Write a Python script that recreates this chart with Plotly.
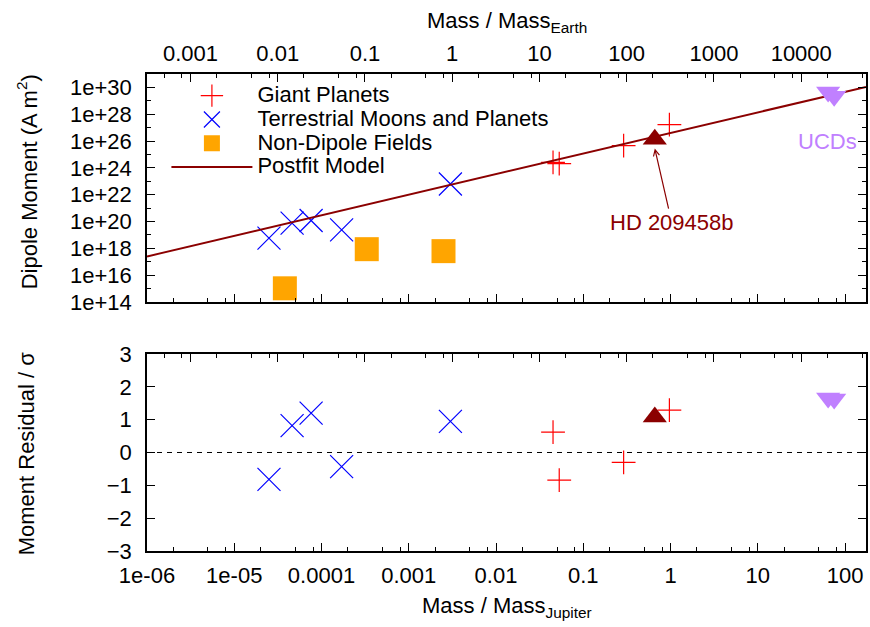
import math
import plotly.graph_objects as go

# ---------------- data ----------------
# masses in Jupiter masses, dipole moments in A m^2, residuals in sigma
giant_mass = [0.045, 0.053, 0.29, 0.97]
giant_moment = [2.6e24, 2.1e24, 4.6e25, 1.7e27]
giant_resid = [0.62, -0.84, -0.30, 1.29]

terr_mass = [2.5e-5, 4.6e-5, 7.6e-5, 1.7e-4, 3.0e-3]
terr_moment = [5.8e18, 7.6e19, 1.2e20, 2.4e19, 6.3e22]
terr_resid = [-0.82, 0.82, 1.20, -0.43, 0.95]

nondip_mass = [3.8e-5, 3.3e-4, 2.5e-3]
nondip_moment = [1.05e15, 8.7e17, 6.2e17]

hd_mass = [0.66]
hd_moment = [1.35e26]
hd_resid = [1.08]

ucd_mass = [64, 75]
ucd_moment = [4.5e29, 2.2e29]
ucd_resid = [1.66, 1.63]

model_mass = [1e-6, 174]
model_moment = [2.5e17, 1.1e30]

EARTH_PER_JUPITER = 317.8

jup_ticks = [1e-6, 1e-5, 1e-4, 1e-3, 1e-2, 1e-1, 1, 10, 100]
jup_labels = ["1e-06", "1e-05", "0.0001", "0.001", "0.01", "0.1", "1", "10", "100"]
earth_ticks = [1e-3, 1e-2, 1e-1, 1, 10, 100, 1000, 10000]
earth_labels = ["0.001", "0.01", "0.1", "1", "10", "100", "1000", "10000"]
moment_ticks = [1e14, 1e16, 1e18, 1e20, 1e22, 1e24, 1e26, 1e28, 1e30]
moment_labels = ["1e+14", "1e+16", "1e+18", "1e+20", "1e+22", "1e+24", "1e+26", "1e+28", "1e+30"]
resid_ticks = [-3, -2, -1, 0, 1, 2, 3]

# ---------------- styling ----------------
FONT = "Liberation Sans"
FS = 22
RED = "#ff0000"
BLUE = "#0000ff"
ORANGE = "#ffa500"
DARKRED = "#8b0000"
LAVENDER = "#c080ff"

minor_log = [m * 10.0 ** d for d in range(-8, 6) for m in (2, 5, 8)]
minor_moment = [10.0 ** d for d in range(13, 32, 2)]

xrange_j = [-6, 2.24]
shift = math.log10(EARTH_PER_JUPITER)
xrange_e = [xrange_j[0] + shift, xrange_j[1] + shift]

fig = go.Figure()

def leg(name):
    return '<span style="font-size:22px">' + name + '</span>'

# top panel traces
fig.add_trace(go.Scatter(x=giant_mass, y=giant_moment, mode="markers", xaxis="x2", yaxis="y2",
                         name=leg("Giant Planets"),
                         marker=dict(symbol="cross-thin", size=17, color=RED, line=dict(color=RED, width=1.2))))
fig.add_trace(go.Scatter(x=terr_mass, y=terr_moment, mode="markers", xaxis="x2", yaxis="y2",
                         name=leg("Terrestrial Moons and Planets"),
                         marker=dict(symbol="x-thin", size=23, color=BLUE, line=dict(color=BLUE, width=1.2))))
fig.add_trace(go.Scatter(x=nondip_mass, y=nondip_moment, mode="markers", xaxis="x2", yaxis="y2",
                         name=leg("Non-Dipole Fields"),
                         marker=dict(symbol="square", size=24, color=ORANGE)))
fig.add_trace(go.Scatter(x=model_mass, y=model_moment, mode="lines", xaxis="x2", yaxis="y2",
                         name=leg("Postfit Model"), line=dict(color=DARKRED, width=2)))
fig.add_trace(go.Scatter(x=hd_mass, y=hd_moment, mode="markers", xaxis="x2", yaxis="y2", showlegend=False,
                         marker=dict(symbol="triangle-up", size=21, color=DARKRED)))
fig.add_trace(go.Scatter(x=ucd_mass, y=ucd_moment, mode="markers", xaxis="x2", yaxis="y2", showlegend=False,
                         marker=dict(symbol="triangle-down", size=21, color=LAVENDER)))

# bottom panel traces
fig.add_trace(go.Scatter(x=giant_mass, y=giant_resid, mode="markers", xaxis="x", yaxis="y", showlegend=False,
                         marker=dict(symbol="cross-thin", size=17, color=RED, line=dict(color=RED, width=1.2))))
fig.add_trace(go.Scatter(x=terr_mass, y=terr_resid, mode="markers", xaxis="x", yaxis="y", showlegend=False,
                         marker=dict(symbol="x-thin", size=23, color=BLUE, line=dict(color=BLUE, width=1.2))))
fig.add_trace(go.Scatter(x=hd_mass, y=hd_resid, mode="markers", xaxis="x", yaxis="y", showlegend=False,
                         marker=dict(symbol="triangle-up", size=21, color=DARKRED)))
fig.add_trace(go.Scatter(x=ucd_mass, y=ucd_resid, mode="markers", xaxis="x", yaxis="y", showlegend=False,
                         marker=dict(symbol="triangle-down", size=21, color=LAVENDER)))

# empty traces so the Earth-mass axes get drawn
fig.add_trace(go.Scatter(x=[], y=[], xaxis="x3", yaxis="y2", showlegend=False, hoverinfo="skip"))
fig.add_trace(go.Scatter(x=[], y=[], xaxis="x4", yaxis="y", showlegend=False, hoverinfo="skip"))

tickfont = dict(family=FONT, size=FS, color="black")
base_axis = dict(showline=True, linecolor="black", linewidth=1.5, ticks="inside", ticklen=8,
                 tickwidth=1.2, tickcolor="black", showgrid=False, zeroline=False, tickfont=tickfont)
minor_x = dict(tickvals=minor_log, ticks="inside", ticklen=4, tickwidth=1.2, tickcolor="black", showgrid=False)

fig.update_layout(
    width=870, height=627,
    margin=dict(l=147, r=2, t=74, b=76),
    plot_bgcolor="white", paper_bgcolor="white",
    font=dict(family=FONT, size=FS, color="black"),
    xaxis=dict(base_axis, type="log", range=xrange_j, anchor="y", tickmode="array",
               tickvals=jup_ticks, ticktext=jup_labels, minor=minor_x, ticklabelstandoff=4),
    xaxis2=dict(base_axis, type="log", range=xrange_j, anchor="y2", tickmode="array",
                tickvals=jup_ticks, showticklabels=False, minor=minor_x),
    xaxis3=dict(base_axis, type="log", range=xrange_e, anchor="y2", overlaying="x2", side="top",
                tickmode="array", tickvals=earth_ticks, ticktext=earth_labels, minor=minor_x,
                ticklabelstandoff=2),
    xaxis4=dict(base_axis, type="log", range=xrange_e, anchor="y", overlaying="x", side="top",
                tickmode="array", tickvals=earth_ticks, showticklabels=False, minor=minor_x),
    yaxis=dict(base_axis, domain=[0, 0.413], anchor="x", range=[-3, 3], tickmode="array",
               tickvals=resid_ticks, mirror="ticks", ticklabelstandoff=9),
    yaxis2=dict(base_axis, domain=[0.522, 1], anchor="x2", type="log", range=[14, 31],
                tickmode="array", tickvals=moment_ticks, ticktext=moment_labels, mirror="ticks",
                minor=dict(tickvals=minor_moment, ticks="inside", ticklen=4, tickwidth=1.2,
                           tickcolor="black", showgrid=False),
                ticklabelstandoff=9),
    legend=dict(x=0.027, xanchor="left", y=0.99, yanchor="top", bgcolor="rgba(0,0,0,0)",
                font=dict(family=FONT, size=16, color="black"), itemwidth=81,
                tracegroupgap=0),
    showlegend=True,
)

# zero reference line in residual panel
fig.add_shape(type="line", xref="x domain", yref="y", x0=0, x1=1, y0=0, y1=0,
              line=dict(color="black", width=1, dash="5px,5px"))

# annotations
fig.add_annotation(xref="x2", yref="y2", x=math.log10(hd_mass[0]), y=25.44, ax=17, ay=74,
                   text="HD 209458b", showarrow=True, arrowhead=5, arrowsize=1, arrowwidth=1.2,
                   arrowcolor=DARKRED, font=dict(family=FONT, size=FS, color=DARKRED), standoff=0)
fig.add_annotation(xref="x2", yref="y2", x=1.794, y=25.96, text="UCDs", showarrow=False,
                   font=dict(family=FONT, size=FS, color=LAVENDER))

# axis titles
fig.add_annotation(xref="paper", yref="paper", x=-0.1664, y=0.7736, text="Dipole Moment (A m<sup>2</sup>)",
                   textangle=-90, showarrow=False, xanchor="center", yanchor="middle",
                   font=dict(family=FONT, size=FS, color="black"))
fig.add_annotation(xref="paper", yref="paper", x=-0.1664, y=0.2055, text="Moment Residual / σ",
                   textangle=-90, showarrow=False, xanchor="center", yanchor="middle",
                   font=dict(family=FONT, size=FS, color="black"))
fig.add_annotation(xref="paper", yref="paper", x=0.5, y=1.108, text="Mass / Mass<sub>Earth</sub>",
                   showarrow=False, xanchor="center", yanchor="middle",
                   font=dict(family=FONT, size=FS, color="black"))
fig.add_annotation(xref="paper", yref="paper", x=0.5, y=-0.118, text="Mass / Mass<sub>Jupiter</sub>",
                   showarrow=False, xanchor="center", yanchor="middle",
                   font=dict(family=FONT, size=FS, color="black"))

fig.write_html("out.html", config={"displayModeBar": False},
               post_script="document.body.style.margin='0px';document.body.style.padding='0px';")
